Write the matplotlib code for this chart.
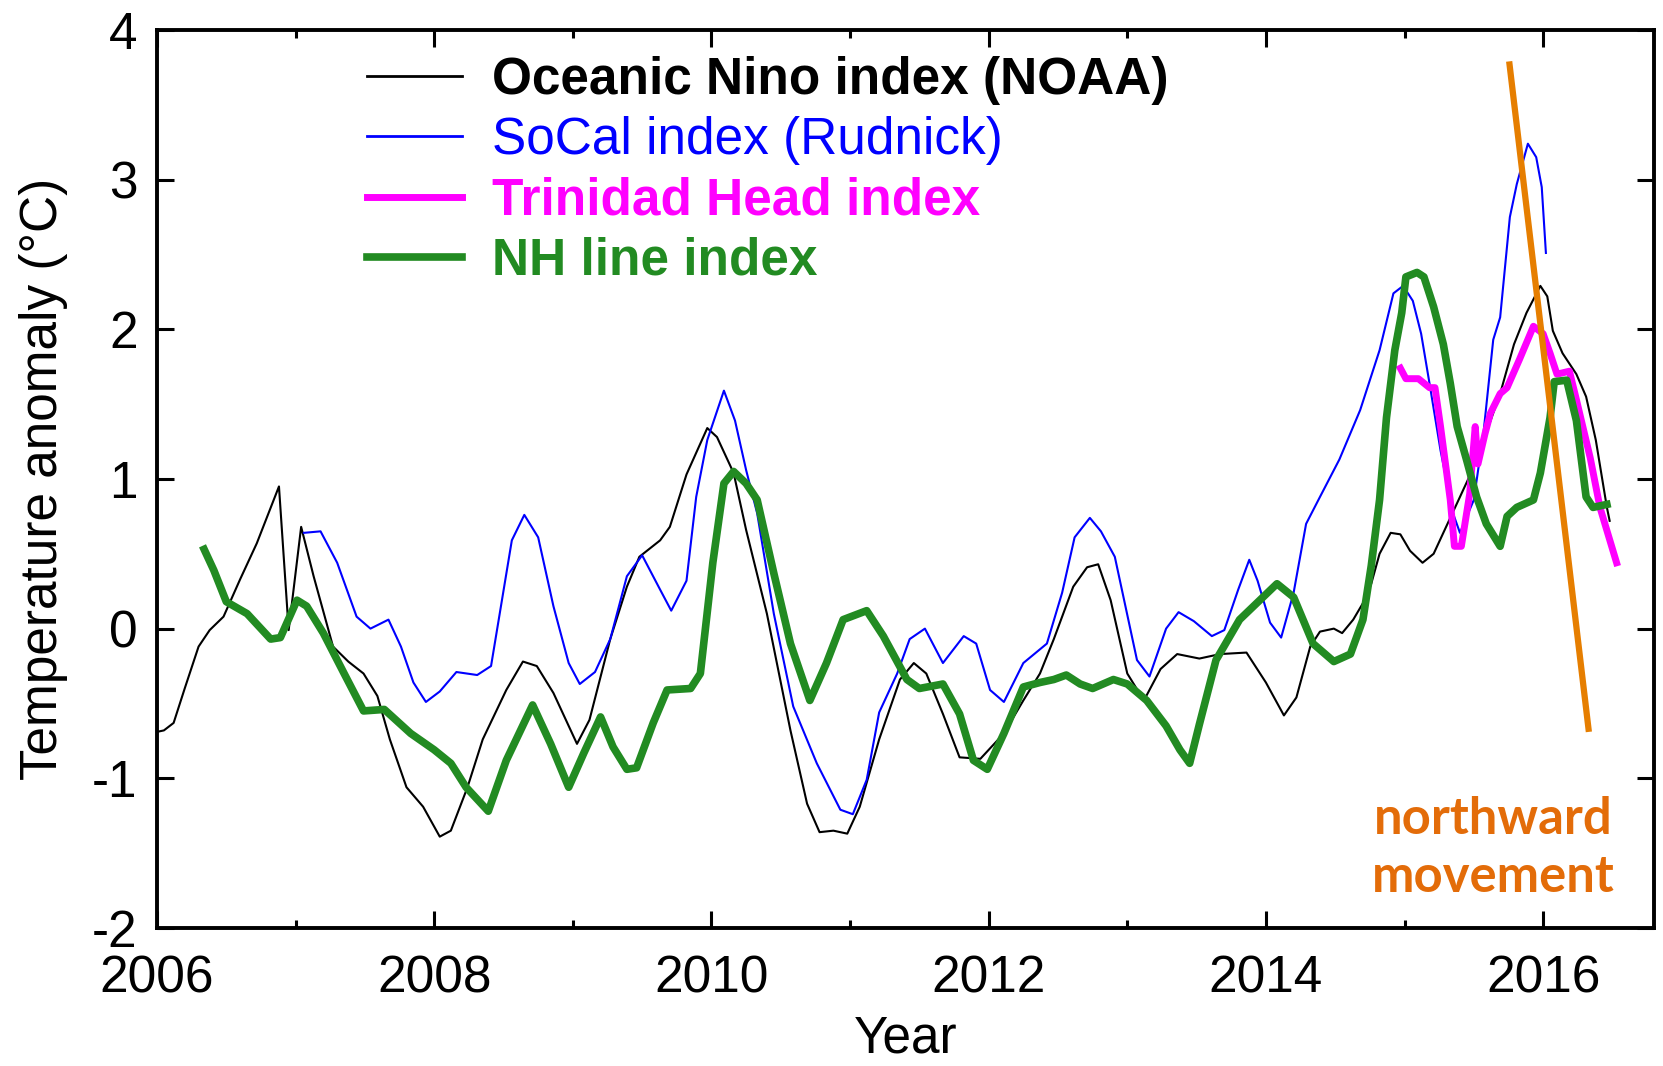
import matplotlib
matplotlib.use("Agg")
import matplotlib.pyplot as plt
from matplotlib.ticker import MultipleLocator

plt.rcParams['font.family'] = ['Liberation Sans', 'DejaVu Sans']
plt.rcParams['axes.unicode_minus'] = False

# Oceanic Nino index (NOAA)
oni_year = [2006.00, 2006.05, 2006.12, 2006.20, 2006.30, 2006.38, 2006.48, 2006.60, 2006.72, 2006.80,
            2006.88, 2006.95, 2007.04, 2007.13, 2007.27, 2007.38, 2007.49, 2007.59, 2007.68, 2007.80,
            2007.92, 2008.04, 2008.12, 2008.24, 2008.35, 2008.52, 2008.64, 2008.74, 2008.86, 2009.03,
            2009.12, 2009.27, 2009.39, 2009.48, 2009.63, 2009.70, 2009.82, 2009.97, 2010.04, 2010.16,
            2010.25, 2010.40, 2010.57, 2010.69, 2010.78, 2010.88, 2010.98, 2011.07, 2011.21, 2011.36,
            2011.46, 2011.55, 2011.67, 2011.79, 2011.94, 2012.11, 2012.25, 2012.37, 2012.47, 2012.61,
            2012.71, 2012.79, 2012.88, 2013.00, 2013.12, 2013.24, 2013.36, 2013.52, 2013.67, 2013.86,
            2014.00, 2014.13, 2014.22, 2014.32, 2014.39, 2014.49, 2014.55, 2014.63, 2014.70, 2014.76,
            2014.82, 2014.90, 2014.97, 2015.04, 2015.13, 2015.21, 2015.30, 2015.40, 2015.50, 2015.59,
            2015.69, 2015.79, 2015.88, 2015.98, 2016.03, 2016.07, 2016.14, 2016.24, 2016.31, 2016.38,
            2016.46, 2016.48]
oni_val = [-0.69, -0.68, -0.63, -0.40, -0.12, -0.01, 0.08, 0.33, 0.57, 0.76,
           0.95, -0.01, 0.68, 0.35, -0.12, -0.22, -0.30, -0.45, -0.74, -1.06,
           -1.19, -1.39, -1.35, -1.06, -0.74, -0.41, -0.22, -0.25, -0.43, -0.77,
           -0.61, -0.07, 0.28, 0.48, 0.59, 0.68, 1.03, 1.34, 1.28, 1.04,
           0.66, 0.10, -0.68, -1.17, -1.36, -1.35, -1.37, -1.19, -0.74, -0.34,
           -0.23, -0.30, -0.57, -0.86, -0.87, -0.70, -0.48, -0.30, -0.07, 0.28,
           0.41, 0.43, 0.19, -0.30, -0.48, -0.27, -0.17, -0.20, -0.17, -0.16,
           -0.36, -0.58, -0.46, -0.12, -0.02, 0.00, -0.03, 0.06, 0.17, 0.30,
           0.50, 0.64, 0.63, 0.52, 0.44, 0.50, 0.68, 0.88, 1.08, 1.31,
           1.57, 1.90, 2.11, 2.29, 2.22, 1.99, 1.84, 1.70, 1.55, 1.26,
           0.81, 0.72]

# SoCal index (Rudnick)
socal_year = [2007.06, 2007.18, 2007.30, 2007.44, 2007.54, 2007.67, 2007.76, 2007.85, 2007.94, 2008.04,
              2008.16, 2008.31, 2008.41, 2008.56, 2008.65, 2008.75, 2008.86, 2008.97, 2009.05, 2009.16,
              2009.27, 2009.39, 2009.50, 2009.63, 2009.71, 2009.82, 2009.89, 2009.97, 2010.09, 2010.17,
              2010.25, 2010.33, 2010.45, 2010.59, 2010.76, 2010.93, 2011.02, 2011.12, 2011.21, 2011.34,
              2011.43, 2011.54, 2011.67, 2011.82, 2011.91, 2012.01, 2012.11, 2012.25, 2012.42, 2012.53,
              2012.62, 2012.73, 2012.81, 2012.91, 2013.07, 2013.16, 2013.28, 2013.37, 2013.48, 2013.61,
              2013.70, 2013.80, 2013.88, 2013.94, 2014.03, 2014.11, 2014.20, 2014.29, 2014.39, 2014.53,
              2014.68, 2014.82, 2014.92, 2014.99, 2015.06, 2015.12, 2015.18, 2015.26, 2015.35, 2015.40,
              2015.50, 2015.57, 2015.64, 2015.69, 2015.76, 2015.81, 2015.89, 2015.95, 2015.99, 2016.02]
socal_val = [0.64, 0.65, 0.44, 0.08, 0.00, 0.06, -0.12, -0.36, -0.49, -0.42,
             -0.29, -0.31, -0.25, 0.59, 0.76, 0.61, 0.15, -0.23, -0.37, -0.29,
             -0.07, 0.35, 0.49, 0.26, 0.12, 0.32, 0.88, 1.26, 1.59, 1.39,
             1.06, 0.77, 0.10, -0.52, -0.90, -1.21, -1.24, -1.01, -0.56, -0.30,
             -0.07, 0.00, -0.23, -0.05, -0.10, -0.41, -0.49, -0.23, -0.10, 0.24,
             0.61, 0.74, 0.65, 0.48, -0.21, -0.32, 0.00, 0.11, 0.05, -0.05,
             -0.01, 0.26, 0.46, 0.32, 0.04, -0.06, 0.24, 0.70, 0.88, 1.13,
             1.46, 1.86, 2.24, 2.29, 2.19, 1.97, 1.64, 1.19, 0.77, 0.64,
             0.86, 1.31, 1.93, 2.08, 2.75, 2.97, 3.24, 3.15, 2.95, 2.51]

# Trinidad Head index
trin_year = [2014.97, 2015.01, 2015.10, 2015.18, 2015.22, 2015.26, 2015.33, 2015.36, 2015.41, 2015.47,
             2015.51, 2015.53, 2015.58, 2015.62, 2015.69, 2015.74, 2015.83, 2015.93, 2016.00, 2016.05,
             2016.10, 2016.19, 2016.24, 2016.34, 2016.41, 2016.53]
trin_val = [1.74, 1.67, 1.67, 1.61, 1.61, 1.35, 0.86, 0.55, 0.55, 0.90,
            1.35, 1.10, 1.30, 1.44, 1.57, 1.61, 1.80, 2.02, 1.97, 1.84,
            1.70, 1.72, 1.53, 1.14, 0.81, 0.44]

# NH line index
nh_year = [2006.34, 2006.41, 2006.50, 2006.65, 2006.82, 2006.89, 2007.01, 2007.08, 2007.20, 2007.35,
           2007.49, 2007.64, 2007.83, 2008.00, 2008.12, 2008.23, 2008.39, 2008.52, 2008.71, 2008.84,
           2008.97, 2009.08, 2009.20, 2009.29, 2009.39, 2009.46, 2009.58, 2009.68, 2009.85, 2009.92,
           2010.01, 2010.09, 2010.16, 2010.25, 2010.33, 2010.45, 2010.57, 2010.71, 2010.83, 2010.95,
           2011.12, 2011.24, 2011.41, 2011.50, 2011.67, 2011.79, 2011.89, 2011.99, 2012.11, 2012.25,
           2012.37, 2012.47, 2012.56, 2012.66, 2012.75, 2012.90, 2013.00, 2013.14, 2013.28, 2013.38,
           2013.45, 2013.52, 2013.64, 2013.81, 2014.08, 2014.20, 2014.34, 2014.49, 2014.61, 2014.70,
           2014.76, 2014.82, 2014.87, 2014.93, 2014.98, 2015.01, 2015.09, 2015.14, 2015.21, 2015.28,
           2015.33, 2015.38, 2015.45, 2015.52, 2015.59, 2015.69, 2015.74, 2015.81, 2015.93, 2015.98,
           2016.05, 2016.08, 2016.17, 2016.24, 2016.31, 2016.36, 2016.46]
nh_val = [0.53, 0.39, 0.18, 0.10, -0.07, -0.06, 0.19, 0.15, -0.03, -0.30,
          -0.55, -0.54, -0.70, -0.81, -0.90, -1.06, -1.22, -0.88, -0.51, -0.77,
          -1.06, -0.83, -0.59, -0.79, -0.94, -0.93, -0.63, -0.41, -0.40, -0.30,
          0.44, 0.97, 1.05, 0.97, 0.86, 0.37, -0.10, -0.48, -0.23, 0.06,
          0.12, -0.05, -0.34, -0.40, -0.37, -0.57, -0.88, -0.94, -0.70, -0.39,
          -0.36, -0.34, -0.31, -0.37, -0.40, -0.34, -0.37, -0.48, -0.65, -0.81,
          -0.90, -0.64, -0.21, 0.06, 0.30, 0.21, -0.10, -0.22, -0.17, 0.06,
          0.42, 0.86, 1.41, 1.86, 2.11, 2.35, 2.38, 2.35, 2.15, 1.90,
          1.64, 1.35, 1.12, 0.88, 0.70, 0.55, 0.75, 0.81, 0.86, 1.04,
          1.41, 1.65, 1.66, 1.39, 0.88, 0.81, 0.83]

labels = ['Oceanic Nino index (NOAA)', 'SoCal index (Rudnick)', 'Trinidad Head index', 'NH line index']
colors = ['black', '#0000ff', '#ff00ff', '#228b22']

# annotation line ("northward movement")
arrow_x = [2015.755, 2016.33]
arrow_y = [3.79, -0.69]

fig = plt.figure(figsize=(16.63, 10.66), dpi=100)
ax = fig.add_axes([0.0944, 0.1295, 0.9002, 0.8424])

ax.plot(oni_year, oni_val, color=colors[0], lw=1.5, label=labels[0])
ax.plot(socal_year, socal_val, color=colors[1], lw=1.5, label=labels[1])
ax.plot(trin_year, trin_val, color=colors[2], lw=5, label=labels[2])
ax.plot(nh_year, nh_val, color=colors[3], lw=5.5, label=labels[3])

ax.plot(arrow_x, arrow_y, color='#e67e00', lw=4.5, solid_capstyle='butt')
ax.text(2015.64, -1.47, 'northward\nmovement', color='#e36c09', fontsize=36.5,
        fontweight='bold', family=['Lato', 'DejaVu Sans'], ha='center', va='center',
        linespacing=1.3)

ax.set_xlim(2006, 2016.8)
ax.set_ylim(-2, 4)
ax.xaxis.set_major_locator(MultipleLocator(2))
ax.xaxis.set_minor_locator(MultipleLocator(1))
ax.yaxis.set_major_locator(MultipleLocator(1))
ax.tick_params(which='both', direction='in', top=True, right=True, width=2.2)
ax.tick_params(which='major', length=12, labelsize=37)
ax.tick_params(axis='x', which='major', pad=19)
ax.tick_params(axis='y', which='major', pad=14)
ax.tick_params(which='minor', length=6)
for s in ax.spines.values():
    s.set_linewidth(2.8)

ax.set_xlabel('Year', fontsize=37, labelpad=8)
ax.set_ylabel('Temperature anomaly (°C)', fontsize=37, labelpad=17)

leg = ax.legend(loc='upper left', bbox_to_anchor=(0.14, 0.971), frameon=False, fontsize=37,
                handlelength=1.85, handletextpad=0.6, labelspacing=0.22, borderpad=0,
                borderaxespad=0, labelcolor='linecolor')
for i, t in enumerate(leg.get_texts()):
    t.set_fontweight('normal' if i == 1 else 'bold')
leg.get_lines()[0].set_linewidth(2)
leg.get_lines()[1].set_linewidth(2)

fig.savefig('out.png', dpi=100)
